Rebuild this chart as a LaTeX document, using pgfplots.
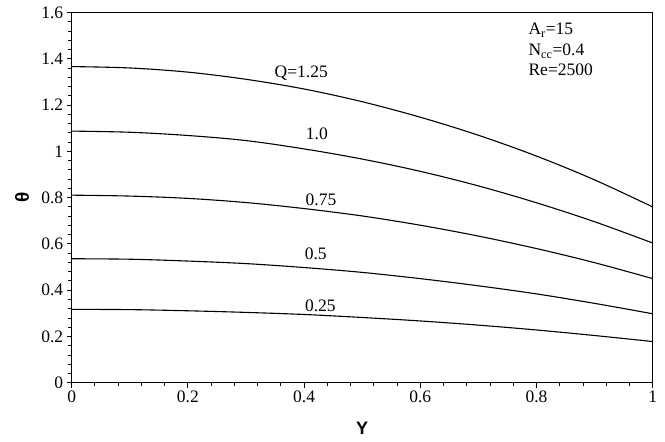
\documentclass[border=0pt]{standalone}
\usepackage{fontspec}
\setmainfont{Liberation Serif}
\setsansfont{Liberation Sans}
\usepackage{pgfplots}
\pgfplotsset{compat=1.18}
\usetikzlibrary{calc}

\begin{document}
\begin{tikzpicture}
\begin{axis}[
  name=ax,
  scale only axis,
  width=581bp, height=370bp,
  xmin=0, xmax=1, ymin=0, ymax=1.6,
  xtick={0,0.2,...,1.0},
  ytick={0,0.2,...,1.6},
  minor x tick num=4,
  minor y tick num=4,
  tick align=outside,
  xtick pos=bottom, ytick pos=left,
  major tick length=5bp, minor tick length=3.5bp,
  every tick/.style={black, line width=0.9bp},
  axis line style={line width=0.9bp},
  /pgf/number format/assume math mode=true,
  xticklabel style={font=\fontsize{17.5bp}{20bp}\selectfont, /pgf/number format/fixed},
  yticklabel style={font=\fontsize{17.5bp}{20bp}\selectfont, /pgf/number format/fixed},
  xlabel={\sffamily\bfseries Y},
  xlabel style={font=\fontsize{18bp}{20bp}\selectfont, at={(axis description cs:0.5,0)}, anchor=center, yshift=-46bp},
  cycle list={{black}},
  every axis plot/.append style={line width=1.1bp, smooth, tension=0.55, no markers},
  clip=false,
]
% Q = 1.25
\addplot coordinates {(0,1.367) (0.1,1.361) (0.2,1.343) (0.3,1.312) (0.4,1.270) (0.5,1.215) (0.6,1.148) (0.7,1.070) (0.8,0.980) (0.9,0.877) (1.0,0.760)};
% Q = 1.0
\addplot coordinates {(0,1.088) (0.1,1.083) (0.2,1.069) (0.3,1.047) (0.4,1.011) (0.5,0.967) (0.6,0.914) (0.7,0.851) (0.8,0.778) (0.9,0.696) (1.0,0.604)};
% Q = 0.75
\addplot coordinates {(0,0.811) (0.1,0.807) (0.2,0.797) (0.3,0.779) (0.4,0.753) (0.5,0.721) (0.6,0.681) (0.7,0.634) (0.8,0.580) (0.9,0.519) (1.0,0.450)};
% Q = 0.5
\addplot coordinates {(0,0.536) (0.1,0.534) (0.2,0.526) (0.3,0.515) (0.4,0.498) (0.5,0.477) (0.6,0.450) (0.7,0.419) (0.8,0.384) (0.9,0.343) (1.0,0.298)};
% Q = 0.25
\addplot coordinates {(0,0.317) (0.1,0.316) (0.2,0.311) (0.3,0.304) (0.4,0.295) (0.5,0.282) (0.6,0.267) (0.7,0.249) (0.8,0.228) (0.9,0.204) (1.0,0.178)};

\begin{scope}[font=\fontsize{17.5bp}{20bp}\selectfont]
\node at (axis cs:0.395,1.340) {Q=1.25};
\node at (axis cs:0.422,1.078) {1.0};
\node at (axis cs:0.429,0.789) {0.75};
\node at (axis cs:0.420,0.557) {0.5};
\node at (axis cs:0.428,0.334) {0.25};
% parameter block
\node[anchor=base west, inner sep=0pt] at (axis cs:0.786,1.504) {A\textsubscript{r}=15};
\node[anchor=base west, inner sep=0pt] at (axis cs:0.786,1.413) {N\textsubscript{cc}=0.4};
\node[anchor=base west, inner sep=0pt] at (axis cs:0.786,1.327) {Re=2500};
\end{scope}
\node[font=\fontsize{19bp}{20bp}\selectfont\sffamily\bfseries, rotate=90]
  at ($(rel axis cs:0,0.5)+(-49.7bp,0)$) {θ};
\end{axis}
\pgfresetboundingbox
\path[use as bounding box] ($(ax.south west)+(-71.7bp,-58.5bp)$) rectangle ($(ax.north east)+(12.3bp,12.7bp)$);
\end{tikzpicture}
\end{document}
